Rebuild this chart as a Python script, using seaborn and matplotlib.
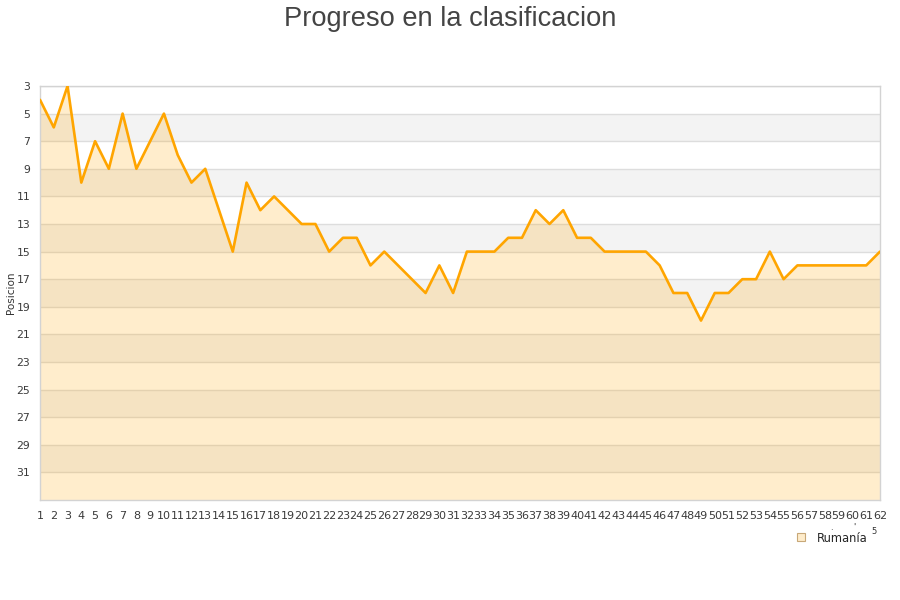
import seaborn as sns
import matplotlib.pyplot as plt
from matplotlib.lines import Line2D
import pandas as pd

jornadas = list(range(1, 63))
posiciones = [4, 6, 3, 10, 7, 9, 5, 9, 7, 5,
              8, 10, 9, 12, 15, 10, 12, 11, 12, 13,
              13, 15, 14, 14, 16, 15, 16, 17, 18, 16,
              18, 15, 15, 15, 14, 14, 12, 13, 12, 14,
              14, 15, 15, 15, 15, 16, 18, 18, 20, 18,
              18, 17, 17, 15, 17, 16, 16, 16, 16, 16,
              16, 15]
y_ticks = list(range(3, 32, 2))
equipo = 'Rumanía'

df = pd.DataFrame({'jornada': jornadas, 'posicion': posiciones})

sns.set_style("white")
plt.rcParams['font.family'] = ['DejaVu Sans']

fig = plt.figure(figsize=(9, 6), dpi=100)
ax = fig.add_axes([40 / 900, 100 / 600, 840 / 900, 414 / 600])

# alternating bands
for lo in range(5, 33, 4):
    ax.axhspan(lo, lo + 2, color='#f3f3f3', zorder=0, lw=0)
for t in y_ticks:
    ax.axhline(t, color='#dddddd', lw=1, zorder=1)

# area under the line down to the axis bottom
ax.fill_between(df.jornada, df.posicion, 33, color='#ffa500', alpha=0.2, lw=0, zorder=2)
sns.lineplot(data=df, x='jornada', y='posicion', ax=ax, color='#ffa500', lw=1.9, zorder=3)

ax.set_xlim(1, 62)
ax.set_ylim(33, 3)
ax.set_yticks(y_ticks)
ax.set_xticks(jornadas)
ax.set_xticklabels([str(j) for j in jornadas], fontsize=8, color='#3a3a3a')
ax.set_yticklabels([str(t) for t in y_ticks], fontsize=7.8, color='#3a3a3a')
ax.tick_params(axis='x', length=0, pad=8)
ax.tick_params(axis='y', length=0, pad=7)
ax.set_xlabel('')
ax.set_ylabel('Posicion', fontsize=7.5, color='#333333')
ax.yaxis.set_label_coords(-24 / 840, 0.5)
for s in ax.spines.values():
    s.set_color('#d3d3d3')
    s.set_linewidth(1)

fig.suptitle('Progreso en la clasificacion', x=0.5, y=0.99, fontsize=19.6,
             color='#444444', family=['Liberation Sans', 'DejaVu Sans'])

handle = Line2D([], [], marker='s', ls='', markersize=6,
                markerfacecolor='#feeccb', markeredgecolor='#c8a878', markeredgewidth=0.8)
fig.legend([handle], [equipo], loc='center left', bbox_to_anchor=(785 / 900, 1 - 538 / 600),
           frameon=False, fontsize=8.3, handletextpad=0.4, borderaxespad=0)

# clipped axis-title fragments near the legend
fig.text(874 / 900, 1 - 532 / 600, '5', fontsize=6, color='#333333', ha='center', va='center')
fig.text(831 / 900, 1 - 527 / 600, '.', fontsize=6, color='#333333', ha='center', va='center')
fig.text(854 / 900, 1 - 527 / 600, "'", fontsize=6, color='#333333', ha='center', va='center')

fig.savefig('out.png', dpi=100)
